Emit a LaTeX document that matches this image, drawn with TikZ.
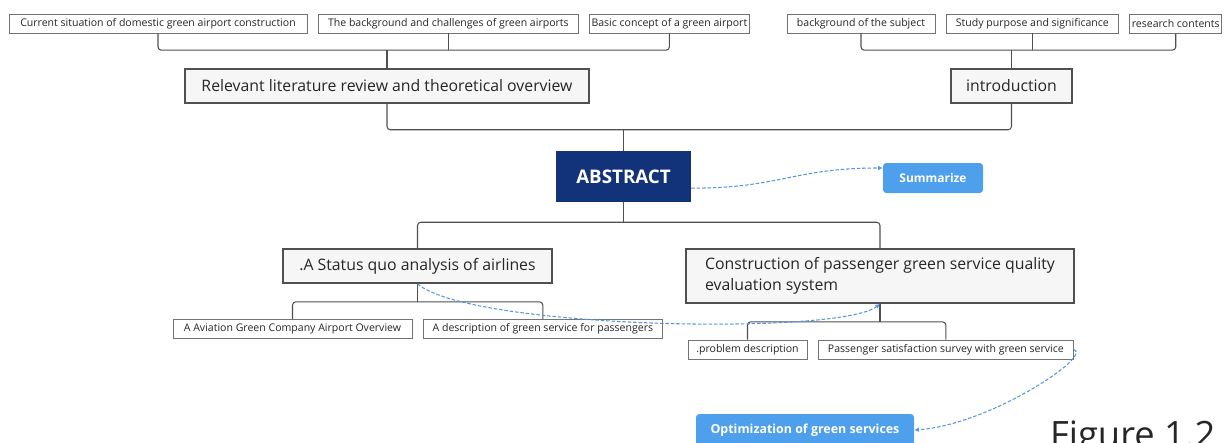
\documentclass[tikz,border=0pt]{standalone}
\usepackage{fontspec}
\setmainfont{Open Sans}
\usetikzlibrary{arrows.meta,positioning}

\definecolor{navy}{RGB}{18,50,122}
\definecolor{skyfill}{RGB}{78,160,236}
\definecolor{flowblue}{RGB}{84,150,224}
\definecolor{edgegray}{RGB}{80,80,80}
\definecolor{boxgray}{RGB}{246,246,246}

\begin{document}
\begin{tikzpicture}[
    x=0.03cm, y=-0.03cm,
    node distance=3.2mm and 3.2mm,
    leaf/.style={draw=edgegray!80, line width=0.6pt, fill=white, text=black!85, inner xsep=1.5pt, inner ysep=0pt, minimum height=5.7mm, font=\fontsize{9}{10}\selectfont},
    topic/.style={draw=edgegray, line width=1.4pt, fill=boxgray, text=black!85, inner sep=0pt, minimum height=10.2mm, font=\fontsize{13.5}{18}\selectfont},
    root/.style={fill=navy, text=white, inner sep=0pt, minimum width=40.5mm, minimum height=15.3mm, font=\fontsize{16}{19}\selectfont\bfseries},
    tag/.style={fill=skyfill, text=white, rounded corners=1mm, inner sep=0pt, font=\fontsize{10.2}{12}\selectfont\bfseries},
    link/.style={draw=edgegray, line width=0.9pt, rounded corners=1mm},
    flow/.style={draw=flowblue, line width=0.9pt, dash pattern=on 3pt off 1.6pt, -{Latex[length=4pt,width=4pt]}}
]
    \useasboundingbox (0,0) rectangle (1232,442);

    % top row
    \node[leaf, minimum width=89.4mm] (cur) at (158,23.5) {Current situation of domestic green airport construction};
    \node[leaf, minimum width=78mm, right=of cur] (bgch) {The background and challenges of green airports};
    \node[leaf, minimum width=46.5mm, right=of bgch] (basic) {Basic concept of a green airport};
    \node[leaf, minimum width=44.4mm] (subj) at (861,23.5) {background of the subject};
    \node[leaf, minimum width=51.6mm, right=of subj] (purp) {Study purpose and significance};
    \node[leaf, minimum width=27.6mm, right=of purp] (rcont) {research contents};

    % main topics
    \node[topic, minimum width=121.2mm] (lit) at (387,86) {Relevant literature review and theoretical overview};
    \node[topic, minimum width=36.3mm] (intro) at (1011.5,86) {introduction};
    \node[root] (abs) at (623.5,176.5) {ABSTRACT};
    \node[tag, minimum width=30mm, minimum height=9mm] (summ) at (933,178) {Summarize};
    \node[topic, minimum width=80.7mm] (status) at (417.5,266) {.A Status quo analysis of airlines};
    \node[topic, minimum width=116.4mm, minimum height=16.2mm, align=left] (constr) at (880,276) {Construction of passenger green service quality\\evaluation system};

    % bottom leaves
    \node[leaf, minimum width=71.7mm] (aov) at (292.5,329) {A Aviation Green Company Airport Overview};
    \node[leaf, minimum width=71.7mm, right=of aov] (desc) {A description of green service for passengers};
    \node[leaf, minimum width=35.7mm] (prob) at (747.5,349.5) {.problem description};
    \node[leaf, minimum width=76.5mm, right=of prob] (pass) {Passenger satisfaction survey with green service};
    \node[tag, minimum width=65.4mm, minimum height=9.6mm, font=\fontsize{10.6}{12}\selectfont\bfseries] (optim) at (805,430) {Optimization of green services};
    \node[anchor=base west, text=black!85, font=\fontsize{31}{34}\selectfont] (fig) at (1046,447) {Figure 1.2};

    % buses
    \coordinate (busl) at ([yshift=5.4mm]lit.north);
    \coordinate (busr) at ([yshift=5.4mm]intro.north);
    \coordinate (busm) at ([yshift=6.3mm]abs.north);
    \coordinate (busb) at ([yshift=-6mm]abs.south);
    \coordinate (buss) at ([yshift=-5.4mm]status.south);
    \coordinate (busc) at ([yshift=-5.4mm]constr.south);

    \draw[link] (cur.south) |- (busl) -| (basic.south);
    \draw[link] (bgch.south) -- (bgch.south |- busl);
    \draw[link] (busl) -- (lit.north);
    \draw[link] (subj.south) |- (busr) -| (rcont.south);
    \draw[link] (purp.south) -- (purp.south |- busr);
    \draw[link] (busr) -- (intro.north);
    \draw[link] (lit.south) |- (busm) -| (intro.south);
    \draw[link] (busm) -- (abs.north);
    \draw[link] (status.north) |- (busb) -| (constr.north);
    \draw[link] (abs.south) -- (busb);
    \draw[link] (aov.north) |- (buss) -| (desc.north);
    \draw[link] (status.south) -- (buss);
    \draw[link] (prob.north) |- (busc) -| (pass.north);
    \draw[link] (constr.south) -- (busc);

    % dashed relations
    \coordinate (absout) at ([yshift=-3.5mm]abs.east);
    \coordinate (summin) at ([yshift=3mm]summ.west);
    \draw[flow] (absout) .. controls +(90,0) and +(-90,0) .. (summin);
    \draw[flow] (status.south) .. controls +(52,45) and +(-40,32) .. (constr.south);
    \draw[flow] (pass.east) .. controls +(20,6) and +(75,-5) .. (optim.east);
\end{tikzpicture}
\end{document}
